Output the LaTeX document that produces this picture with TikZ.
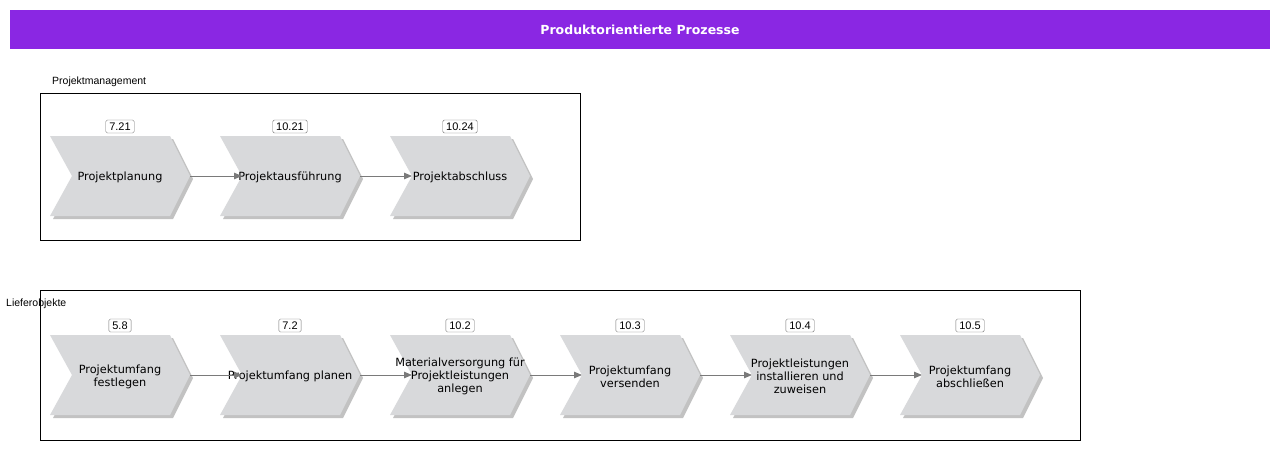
\documentclass[tikz,border=0pt]{standalone}
\usepackage{fontspec}
\setmainfont{DejaVu Sans}
\newfontfamily\arialfont{Liberation Sans}
\usetikzlibrary{arrows.meta}
\definecolor{hdr}{HTML}{8A27E3}
\definecolor{chevgray}{HTML}{D8D9DB}
\definecolor{chevshadow}{HTML}{C2C2C2}
\definecolor{arrowgray}{HTML}{7A7A7A}
\tikzset{
  chevtxt/.style={align=center, font=\fontsize{11.3}{13}\selectfont, text=black, inner sep=0pt},
  numbox/.style={draw=black!55, fill=white, rounded corners=1.5pt, font=\arialfont\fontsize{11}{12}\selectfont, inner xsep=3.5pt, inner ysep=0pt, minimum height=13pt},
  frame/.style={draw=black, line width=0.8pt},
  frametitle/.style={font=\arialfont\fontsize{10.5}{12}\selectfont, anchor=west, inner sep=0pt},
  flow/.style={draw=arrowgray, line width=0.8pt, -{Triangle[length=8pt,width=6.5pt]}},
}
\newcommand\mychev[5]{%
  \fill[chevshadow] (#2+3,#3-37) -- (#2+123,#3-37) -- (#2+143,#3+3) -- (#2+123,#3+43) -- (#2+3,#3+43) -- (#2+25,#3+3) -- cycle;
  \fill[chevgray] (#2,#3-40) -- (#2+120,#3-40) -- (#2+140,#3) -- (#2+120,#3+40) -- (#2,#3+40) -- (#2+22,#3) -- cycle;
  \node[chevtxt] (#1) at (#2+70,#3+1.5) {#4};
  \coordinate (#1-in) at (#2+22,#3);
  \coordinate (#1-out) at (#2+140,#3);
  \node[numbox] (#1-n) at (#2+70,#3-49.5) {#5};
}
\begin{document}
\begin{tikzpicture}[x=1pt,y=-1pt]
\useasboundingbox (0,0) rectangle (1280,450);
\fill[white] (0,0) rectangle (1280,450);
% header
\node[fill=hdr, minimum width=1260pt, minimum height=39pt, inner sep=0pt, text=white, font=\bfseries\fontsize{12.5}{14}\selectfont] (hdr) at (640,29.5) {Produktorientierte Prozesse};
% frames
\node[frame, minimum width=540pt, minimum height=147pt, inner sep=0pt] (f1) at (310,166.5) {};
\node[frametitle] (f1t) at (52,82) {Projektmanagement};
\node[frame, minimum width=1040pt, minimum height=150pt, inner sep=0pt] (f2) at (560,365) {};
\node[frametitle] (f2t) at (6,304) {Lieferobjekte};
% row 1
\mychev{a1}{50}{176}{Projektplanung}{7.21}
\mychev{a2}{220}{176}{Projektausführung}{10.21}
\mychev{a3}{390}{176}{Projektabschluss}{10.24}
\draw[flow] (a1-out) -- (a2-in);
\draw[flow] (a2-out) -- (a3-in);
% row 2
\mychev{b1}{50}{375}{Projektumfang\\festlegen}{5.8}
\mychev{b2}{220}{375}{Projektumfang planen}{7.2}
\mychev{b3}{390}{375}{Materialversorgung für\\Projektleistungen\\anlegen}{10.2}
\mychev{b4}{560}{375}{Projektumfang\\versenden}{10.3}
\mychev{b5}{730}{375}{Projektleistungen\\installieren und\\zuweisen}{10.4}
\mychev{b6}{900}{375}{Projektumfang\\abschließen}{10.5}
\draw[flow] (b1-out) -- (b2-in);
\draw[flow] (b2-out) -- (b3-in);
\draw[flow] (b3-out) -- (b4-in);
\draw[flow] (b4-out) -- (b5-in);
\draw[flow] (b5-out) -- (b6-in);
\end{tikzpicture}
\end{document}
